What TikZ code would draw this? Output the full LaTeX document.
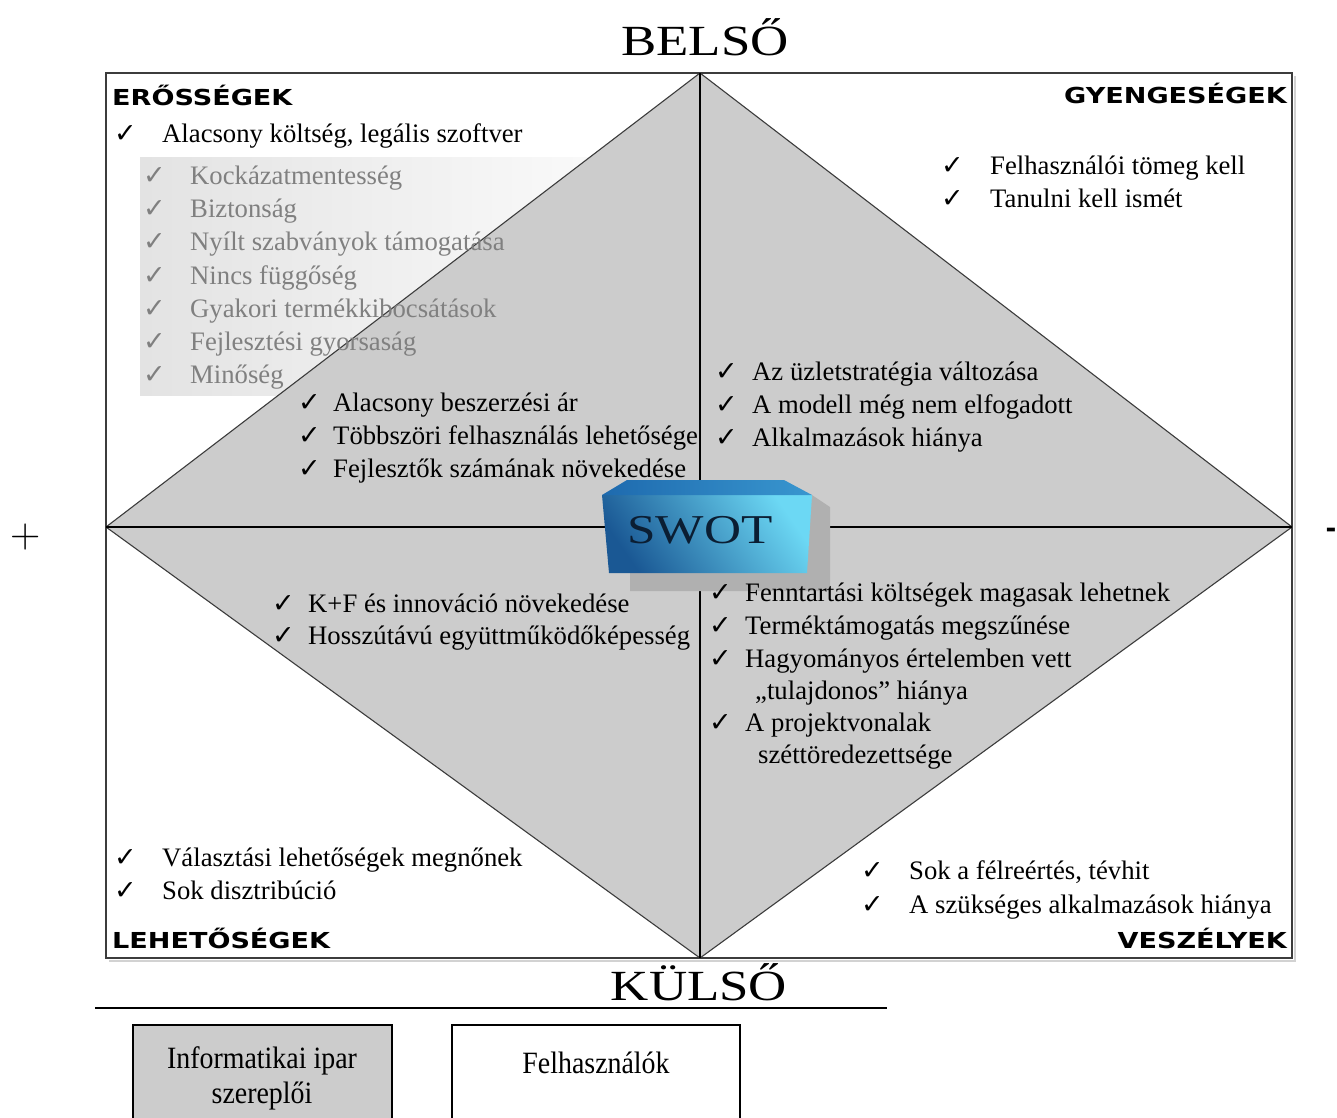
\documentclass[tikz,border=0pt]{standalone}
\usepackage{fontspec}
\newfontfamily\tnr{Liberation Serif}
\newfontfamily\dv{DejaVu Sans}
\definecolor{dgray}{HTML}{CCCCCC}
\definecolor{listgray}{HTML}{808080}
\definecolor{framegray}{HTML}{3C3C3C}
\definecolor{bdark}{HTML}{1A5894}
\definecolor{bmid}{HTML}{2C86C6}
\definecolor{blight}{HTML}{6CD8F4}
\definecolor{btop}{HTML}{1E6AAE}
\definecolor{swotink}{HTML}{0B1E33}
\tikzset{
  txt/.style={anchor=base west, inner sep=0pt, font=\tnr\fontsize{26.7}{32}\selectfont},
  ck/.style={anchor=base west, inner sep=0pt, font=\dv\fontsize{27}{30}\selectfont},
  gtxt/.style={txt, text=listgray},
  gck/.style={ck, text=listgray},
  hdrw/.style={anchor=base west, inner sep=0pt, font=\dv\bfseries\fontsize{22}{24}\selectfont},
  hdre/.style={anchor=base east, inner sep=0pt, font=\dv\bfseries\fontsize{22}{24}\selectfont},
  big/.style={anchor=base, inner sep=0pt, font=\tnr\fontsize{43}{48}\selectfont},
  boxtxt/.style={anchor=base, inner sep=0pt, font=\tnr\fontsize{31}{36}\selectfont},
}
\begin{document}
\begin{tikzpicture}[x=1pt,y=-1pt]
\useasboundingbox (0,0) rectangle (1337,1117);
% coordinates
\coordinate (TL) at (106,73);
\coordinate (BR) at (1292,958);
\coordinate (dT) at (700,73);
\coordinate (dR) at (1292,527);
\coordinate (dB) at (700,958);
\coordinate (dL) at (106,527);
% gradient box behind strengths list
\shade[left color=gray!22, right color=gray!4] (140,157) rectangle (600,395);
% diamond
\fill[dgray] (dT) -- (dR) -- (dB) -- (dL) -- cycle;
\draw[framegray, line width=1.1pt] (dT) -- (dR) -- (dB) -- (dL) -- cycle;
% frame shadow + frame
\draw[gray!35, line width=2pt] (1295,76) -- (1295,961) -- (109,961);
\draw[framegray, line width=2.4pt] (TL) rectangle (BR);
% cross
\draw[black, line width=1.4pt] (dT) -- (dB);
\draw[black, line width=1.4pt] (dL) -- (dR);
% SWOT box
\fill[gray!62] (812,495) -- (830,507) -- (830,591) -- (630,591) -- (630,573) -- cycle;
\shade[bottom color=bdark, middle color=bmid, top color=blight, shading angle=-55]
  (602,495) -- (812,495) -- (807,573) -- (609,573) -- cycle;
\shade[left color=btop, right color=bmid!80!blight]
  (602,495) -- (627,480) -- (784,480) -- (812,495) -- cycle;
\node[anchor=base, inner sep=0pt, text=swotink, font=\tnr\fontsize{41}{44}\selectfont] (swot) at (700,543) {\scalebox{1.25}[1]{SWOT}};
% top labels
\node[big] (belso) at (705,55) {\scalebox{1.23}[1]{BELSŐ}};
\node[big] (kulso) at (699,1000) {\scalebox{1.23}[1]{KÜLSŐ}};
\node[anchor=center, inner sep=0pt, font=\fontsize{42}{44}\selectfont] (plus) at (26,537) {+};
\node[anchor=east, inner sep=0pt, font=\dv\bfseries\fontsize{26}{28}\selectfont] (minus) at (1336.5,533) {-};
% headers
\node[hdrw] (hS) at (112,105) {\scalebox{1.23}[1]{ERŐSSÉGEK}};
\node[hdre] (hW) at (1287,103) {\scalebox{1.23}[1]{GYENGESÉGEK}};
\node[hdrw] (hO) at (112,948) {\scalebox{1.23}[1]{LEHETŐSÉGEK}};
\node[hdre] (hT) at (1287,948) {\scalebox{1.23}[1]{VESZÉLYEK}};
% strengths
\node[ck] (s1c) at (114,142) {✓};
\node[txt] (s1) at (162,142) {Alacsony költség, legális szoftver};
\node[gck] (g1c) at (143,184) {✓}; \node[gtxt] (g1) at (190,184) {Kockázatmentesség};
\node[gck] (g2c) at (143,217) {✓}; \node[gtxt] (g2) at (190,217) {Biztonság};
\node[gck] (g3c) at (143,250) {✓}; \node[gtxt] (g3) at (190,250) {Nyílt szabványok támogatása};
\node[gck] (g4c) at (143,284) {✓}; \node[gtxt] (g4) at (190,284) {Nincs függőség};
\node[gck] (g5c) at (143,317) {✓}; \node[gtxt] (g5) at (190,317) {Gyakori termékkibocsátások};
\node[gck] (g6c) at (143,350) {✓}; \node[gtxt] (g6) at (190,350) {Fejlesztési gyorsaság};
\node[gck] (g7c) at (143,383) {✓}; \node[gtxt] (g7) at (190,383) {Minőség};
\node[ck] (s2c) at (298,411) {✓}; \node[txt] (s2) at (333,411) {Alacsony beszerzési ár};
\node[ck] (s3c) at (298,444) {✓}; \node[txt] (s3) at (333,444) {Többszöri felhasználás lehetősége};
\node[ck] (s4c) at (298,477) {✓}; \node[txt] (s4) at (333,477) {Fejlesztők számának növekedése};
% weaknesses
\node[ck] (w1c) at (941,174) {✓}; \node[txt] (w1) at (990,174) {Felhasználói tömeg kell};
\node[ck] (w2c) at (941,207) {✓}; \node[txt] (w2) at (990,207) {Tanulni kell ismét};
\node[ck] (w3c) at (715,380) {✓}; \node[txt] (w3) at (752,380) {Az üzletstratégia változása};
\node[ck] (w4c) at (715,413) {✓}; \node[txt] (w4) at (752,413) {A modell még nem elfogadott};
\node[ck] (w5c) at (715,446) {✓}; \node[txt] (w5) at (752,446) {Alkalmazások hiánya};
% opportunities
\node[ck] (o1c) at (272,612) {✓}; \node[txt] (o1) at (308,612) {K+F és innováció növekedése};
\node[ck] (o2c) at (272,644) {✓}; \node[txt] (o2) at (308,644) {Hosszútávú együttműködőképesség};
\node[ck] (o3c) at (114,866) {✓}; \node[txt] (o3) at (162,866) {Választási lehetőségek megnőnek};
\node[ck] (o4c) at (114,899) {✓}; \node[txt] (o4) at (162,899) {Sok disztribúció};
% threats
\node[ck] (t1c) at (709,601) {✓}; \node[txt] (t1) at (745,601) {Fenntartási költségek magasak lehetnek};
\node[ck] (t2c) at (709,634) {✓}; \node[txt] (t2) at (745,634) {Terméktámogatás megszűnése};
\node[ck] (t3c) at (709,667) {✓}; \node[txt] (t3) at (745,667) {Hagyományos értelemben vett};
\node[txt] (t3b) at (755,699) {„tulajdonos” hiánya};
\node[ck] (t4c) at (709,731) {✓}; \node[txt] (t4) at (745,731) {A projektvonalak};
\node[txt] (t4b) at (758,763) {széttöredezettsége};
\node[ck] (t5c) at (861,879) {✓}; \node[txt] (t5) at (909,879) {Sok a félreértés, tévhit};
\node[ck] (t6c) at (861,913) {✓}; \node[txt] (t6) at (909,913) {A szükséges alkalmazások hiánya};
% bottom
\coordinate (rl) at (95,1008);
\coordinate (rr) at (887,1008);
\draw[black, line width=2.4pt] (rl) -- (rr);
\draw[fill=dgray, line width=1.4pt] (133,1025) rectangle (392,1130);
\draw[fill=white, line width=1.4pt] (452,1025) rectangle (740,1130);
\node[boxtxt] (b1) at (262,1068) {\scalebox{0.9}[1]{Informatikai ipar}};
\node[boxtxt] (b2) at (262,1103) {\scalebox{0.9}[1]{szereplői}};
\node[boxtxt] (b3) at (596,1073) {\scalebox{0.9}[1]{Felhasználók}};
\end{tikzpicture}
\end{document}
